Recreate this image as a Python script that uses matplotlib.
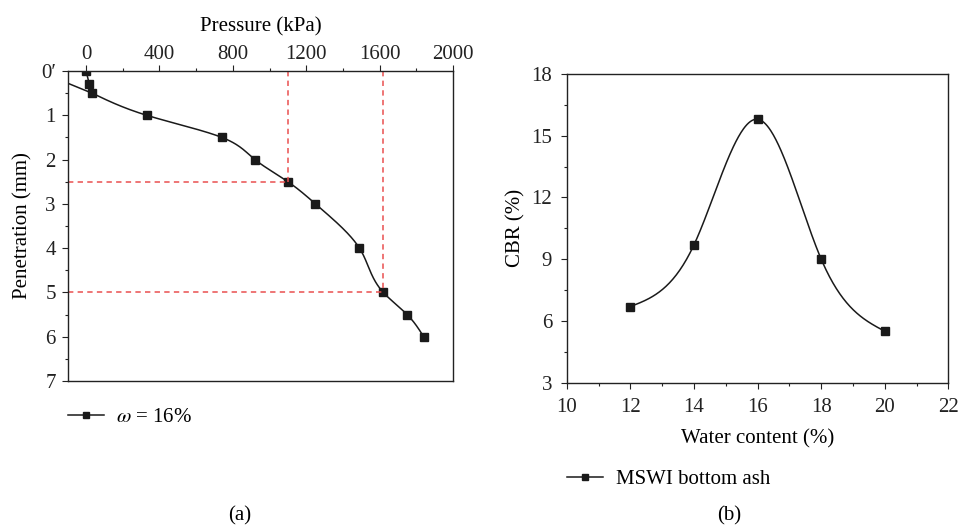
import numpy as np
import matplotlib
matplotlib.use("Agg")
import matplotlib.pyplot as plt
from matplotlib.ticker import MultipleLocator

plt.rcParams['font.family'] = ['Liberation Serif', 'DejaVu Serif']
plt.rcParams['mathtext.fontset'] = 'stix'
plt.rcParams['font.size'] = 15

# (a) load-penetration test, w = 16%
pressure = [0, 18, 33, 330, 740, 920, 1100, 1250, 1490, 1620, 1750, 1840]
penetration = [0, 0.3, 0.5, 1.0, 1.5, 2.0, 2.5, 3.0, 4.0, 5.0, 5.5, 6.0]
ref_pressure = [1100, 1620]
ref_penetration = [2.5, 5.0]

# (b) CBR against water content
water = [12, 14, 16, 18, 20]
cbr = [6.7, 9.7, 15.8, 9.0, 5.5]

INK = '#1a1a1a'
RED = '#ea4f4f'


def natural_spline(x, y, xs):
    x = np.asarray(x, float)
    y = np.asarray(y, float)
    xs = np.asarray(xs, float)
    n = len(x)
    h = np.diff(x)
    A = np.zeros((n, n))
    rhs = np.zeros(n)
    A[0, 0] = A[-1, -1] = 1
    for i in range(1, n - 1):
        A[i, i - 1] = h[i - 1]
        A[i, i] = 2 * (h[i - 1] + h[i])
        A[i, i + 1] = h[i]
        rhs[i] = 6 * ((y[i + 1] - y[i]) / h[i] - (y[i] - y[i - 1]) / h[i - 1])
    M = np.linalg.solve(A, rhs)
    k = np.clip(np.searchsorted(x, xs) - 1, 0, n - 2)
    hk = h[k]
    a = x[k + 1] - xs
    b = xs - x[k]
    return (M[k] * a ** 3 / (6 * hk) + M[k + 1] * b ** 3 / (6 * hk)
            + (y[k] / hk - M[k] * hk / 6) * a
            + (y[k + 1] / hk - M[k + 1] * hk / 6) * b)


fig = plt.figure(figsize=(9.59, 5.30), dpi=100)
ax1 = fig.add_axes([0.0706, 0.2811, 0.4018, 0.585])
ax2 = fig.add_axes([0.591, 0.2779, 0.398, 0.5825])

# ---- (a)
xmin, xmax = -100, 2000
ys = np.linspace(penetration[2], penetration[-1], 400)
xs = natural_spline(penetration[2:], pressure[2:], ys)
# run the first chord back to the left spine
slope = (penetration[3] - penetration[2]) / (pressure[3] - pressure[2])
y_edge = penetration[2] - slope * (pressure[2] - xmin)
cx = np.r_[xmin, xs]
cy = np.r_[y_edge, ys]
ax1.plot(cx, cy, color=INK, lw=1.1)
ax1.plot(pressure[:2], penetration[:2], color=INK, lw=1.1)
ax1.plot(pressure, penetration, ls='none', marker='s', ms=5.5, color=INK)
ax1.plot([], [], color=INK, lw=1.1, marker='s', ms=4,
         label=r'$\omega$ = 16%')

for px, py in zip(ref_pressure, ref_penetration):
    ax1.plot([px, px], [0, py], color=RED, lw=1.1, ls=(0, (3.5, 2.8)))
    ax1.plot([xmin, px], [py, py], color=RED, lw=1.1, ls=(0, (3.5, 2.8)))

ax1.set_xlim(xmin, xmax)
ax1.set_ylim(7, 0)
ax1.xaxis.tick_top()
ax1.xaxis.set_label_position('top')
ax1.set_xticks([0, 400, 800, 1200, 1600, 2000])
ax1.xaxis.set_minor_locator(MultipleLocator(200))
ax1.set_yticks(range(8))
ax1.set_yticklabels(['0\u2032'] + [str(i) for i in range(1, 8)])
ax1.yaxis.set_minor_locator(MultipleLocator(0.5))
ax1.set_xlabel('Pressure (kPa)', labelpad=10)
ax1.set_ylabel('Penetration (mm)', labelpad=6)
ax1.tick_params(which='both', direction='out', top=True, bottom=False,
                left=True, right=False, width=0.8, colors='#222222')
ax1.tick_params(which='major', length=4)
ax1.tick_params(which='minor', length=2.3)
ax1.tick_params(axis='x', which='major', pad=1.0)
ax1.tick_params(axis='y', which='major', pad=4.5)
ax1.legend(loc='center left', bbox_to_anchor=(0.0709, 0.212),
           bbox_transform=fig.transFigure, frameon=False, borderpad=0,
           borderaxespad=0, handlelength=1.75, handletextpad=0.55)

# ---- (b)
xw = np.linspace(12, 20, 300)
ax2.plot(xw, natural_spline(water, cbr, xw), color=INK, lw=1.1)
ax2.plot(water, cbr, ls='none', marker='s', ms=5.5, color=INK)
ax2.plot([], [], color=INK, lw=1.1, marker='s', ms=4,
         label='MSWI bottom ash')

ax2.set_xlim(10, 22)
ax2.set_ylim(3, 18)
ax2.set_xticks(range(10, 23, 2))
ax2.xaxis.set_minor_locator(MultipleLocator(1))
ax2.set_yticks(range(3, 19, 3))
ax2.yaxis.set_minor_locator(MultipleLocator(1.5))
ax2.set_xlabel('Water content (%)', labelpad=9)
ax2.set_ylabel('CBR (%)', labelpad=4.5)
ax2.tick_params(which='both', direction='out', top=False, right=False,
                width=0.8, colors='#222222')
ax2.tick_params(which='major', length=4)
ax2.tick_params(which='minor', length=2.3)
ax2.tick_params(axis='x', which='major', pad=7)
ax2.tick_params(axis='y', which='major', pad=6.5)
ax2.legend(loc='center left', bbox_to_anchor=(0.5912, 0.0962),
           bbox_transform=fig.transFigure, frameon=False, borderpad=0,
           borderaxespad=0, handlelength=1.75, handletextpad=0.6)

for ax in (ax1, ax2):
    for sp in ax.spines.values():
        sp.set_linewidth(1.0)
        sp.set_color('#222222')

fig.text(240 / 959, 1 - 516 / 530, '(a)', ha='center', va='center')
fig.text(729 / 959, 1 - 516 / 530, '(b)', ha='center', va='center')

fig.savefig('out.png', dpi=100)
